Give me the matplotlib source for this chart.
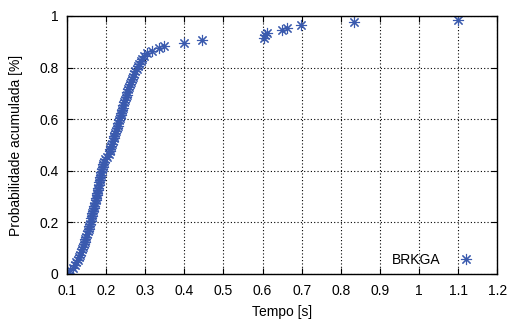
import matplotlib
matplotlib.use("Agg")
import matplotlib.pyplot as plt

plt.rcParams['font.family'] = ['Liberation Sans', 'DejaVu Sans']

# tempos de execucao (s), ordenados
tempos = [
    0.100, 0.108, 0.114, 0.119, 0.123,
    0.127, 0.130, 0.133, 0.136, 0.139,
    0.141, 0.143, 0.145, 0.147, 0.149,
    0.151, 0.153, 0.155, 0.157, 0.159,
    0.161, 0.162, 0.164, 0.165, 0.167,
    0.168, 0.170, 0.171, 0.173, 0.174,
    0.176, 0.177, 0.178, 0.180, 0.181,
    0.182, 0.184, 0.185, 0.186, 0.188,
    0.189, 0.191, 0.193, 0.195, 0.198,
    0.203, 0.206, 0.209, 0.211, 0.213,
    0.215, 0.217, 0.219, 0.221, 0.223,
    0.225, 0.227, 0.229, 0.231, 0.233,
    0.235, 0.237, 0.238, 0.240, 0.242,
    0.244, 0.246, 0.248, 0.250, 0.252,
    0.254, 0.256, 0.259, 0.261, 0.264,
    0.266, 0.269, 0.272, 0.275, 0.278,
    0.281, 0.284, 0.288, 0.292, 0.298,
    0.305, 0.318, 0.335, 0.348, 0.398,
    0.446, 0.604, 0.606, 0.612, 0.649,
    0.662, 0.698, 0.834, 1.100,
]
n_total = 100
prob = [(i + 0.5) / n_total for i in range(len(tempos))]

x_ticks = [0.1, 0.2, 0.3, 0.4, 0.5, 0.6, 0.7, 0.8, 0.9, 1.0, 1.1, 1.2]
x_labels = ["0.1", "0.2", "0.3", "0.4", "0.5", "0.6", "0.7", "0.8", "0.9", "1", "1.1", "1.2"]
y_ticks = [0, 0.2, 0.4, 0.6, 0.8, 1.0]
y_labels = ["0", "0.2", "0.4", "0.6", "0.8", "1"]

fig = plt.figure(figsize=(5.12, 3.25), dpi=100)
ax = fig.add_axes([0.131, 0.157, 0.84, 0.794])

ax.plot(tempos, prob, linestyle="none", marker=(8, 2, 0), markersize=8,
        markeredgewidth=0.8, color="#3a5aae", label="BRKGA")

ax.set_xlim(0.1, 1.2)
ax.set_ylim(0, 1)
ax.set_xticks(x_ticks)
ax.set_xticklabels(x_labels)
ax.set_yticks(y_ticks)
ax.set_yticklabels(y_labels)
ax.tick_params(direction="in", top=True, right=True, labelsize=10, length=4)
ax.tick_params(axis="x", pad=7)
ax.tick_params(axis="y", pad=6)
ax.grid(True, linestyle=(0, (1, 2)), color="black", linewidth=0.8)
for s in ax.spines.values():
    s.set_linewidth(1.0)

ax.set_xlabel("Tempo [s]", fontsize=10, labelpad=5)
ax.set_ylabel("Probabilidade acumulada [%]", fontsize=10, labelpad=12)

ax.legend(loc="lower right", frameon=False, markerfirst=False, fontsize=10,
          handletextpad=0.8, borderaxespad=0.1, bbox_to_anchor=(0.975, 0.0))

fig.savefig("out.png", dpi=100)
